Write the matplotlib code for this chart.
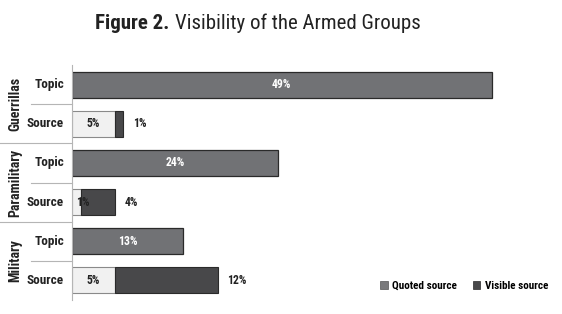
import matplotlib.pyplot as plt
from matplotlib.offsetbox import TextArea, HPacker, AnnotationBbox
from matplotlib.patches import Patch

plt.rcParams['font.family'] = ['Roboto Condensed', 'DejaVu Sans']
plt.rcParams['font.stretch'] = 'condensed'

groups = ['Guerrillas', 'Paramilitary', 'Military']
topic = [49, 24, 13]
quoted = [5, 1, 5]
visible = [1, 4, 12]

c_topic = '#717275'
c_quoted = '#f1f1f1'
c_visible = '#48484a'
txt = '#222222'

fig = plt.figure(figsize=(5.62, 3.14), dpi=100)
ax = fig.add_axes([72 / 562, 14 / 314, 471 / 562, 235 / 314])

h = 0.66
for i, g in enumerate(groups):
    yt = 2 * i
    ys = 2 * i + 1
    ax.barh(yt, topic[i], height=h, color=c_topic, edgecolor='#2a2a2a', lw=0.9)
    ax.text(topic[i] / 2, yt, f'{topic[i]}%', ha='center', va='center',
            color='white', fontsize=8.5, fontweight='bold')
    ax.barh(ys, quoted[i], height=h, color=c_quoted, edgecolor='#8a8a8a', lw=0.8)
    ax.barh(ys, visible[i], left=quoted[i], height=h, color=c_visible,
            edgecolor='#2a2a2a', lw=0.8)
    ax.text(max(quoted[i] / 2, 1.3), ys, f'{quoted[i]}%', ha='center', va='center',
            color=txt, fontsize=8.5, fontweight='bold')
    ax.text(quoted[i] + visible[i] + 1.1, ys, f'{visible[i]}%', ha='left',
            va='center', color=txt, fontsize=8.5, fontweight='bold')
    # row labels
    ax.text(-0.017, yt, 'Topic', transform=ax.get_yaxis_transform(), ha='right',
            va='center', fontsize=9.5, fontweight='bold', color=txt)
    ax.text(-0.017, ys, 'Source', transform=ax.get_yaxis_transform(), ha='right',
            va='center', fontsize=9.5, fontweight='bold', color=txt)
    ax.text(-0.121, 2 * i + 0.5, g, transform=ax.get_yaxis_transform(), ha='center',
            va='center', rotation=90, fontsize=10, fontweight='bold', color=txt)
    # separators
    ax.plot([-0.087, 0], [2 * i + 0.5] * 2, transform=ax.get_yaxis_transform(),
            color='#b5b5b5', lw=0.8, clip_on=False)
    if i > 0:
        ax.plot([-0.153, 0], [2 * i - 0.5] * 2, transform=ax.get_yaxis_transform(),
                color='#b5b5b5', lw=0.8, clip_on=False)

ax.set_xlim(0, 55)
ax.set_ylim(5.5, -0.5)
ax.set_xticks([])
ax.set_yticks([])
for s in ['top', 'right', 'bottom']:
    ax.spines[s].set_visible(False)
ax.spines['left'].set_color('#b5b5b5')
ax.spines['left'].set_linewidth(0.8)

# title with bold lead
t1 = TextArea('Figure 2.', textprops=dict(fontsize=15, fontweight='bold', color=txt))
t2 = TextArea('Visibility of the Armed Groups', textprops=dict(fontsize=15, color=txt))
box = HPacker(children=[t1, t2], align='baseline', pad=0, sep=4)
fig.add_artist(AnnotationBbox(box, (258 / 562, 0.925), xycoords='figure fraction',
                              frameon=False, box_alignment=(0.5, 0.5)))

handles = [Patch(facecolor='#7a7a7c', edgecolor='#555555', lw=0.5),
           Patch(facecolor=c_visible, edgecolor='#2a2a2a', lw=0.5)]
fig.legend(handles, ['Quoted source', 'Visible source'], loc='center left',
           bbox_to_anchor=(370 / 562, 1 - 286 / 314), ncol=2, frameon=False,
           handlelength=0.7, handleheight=0.7, handletextpad=0.4,
           columnspacing=1.4, prop=dict(size=8, weight='bold'))

fig.savefig('out.png', dpi=100, facecolor='white')
